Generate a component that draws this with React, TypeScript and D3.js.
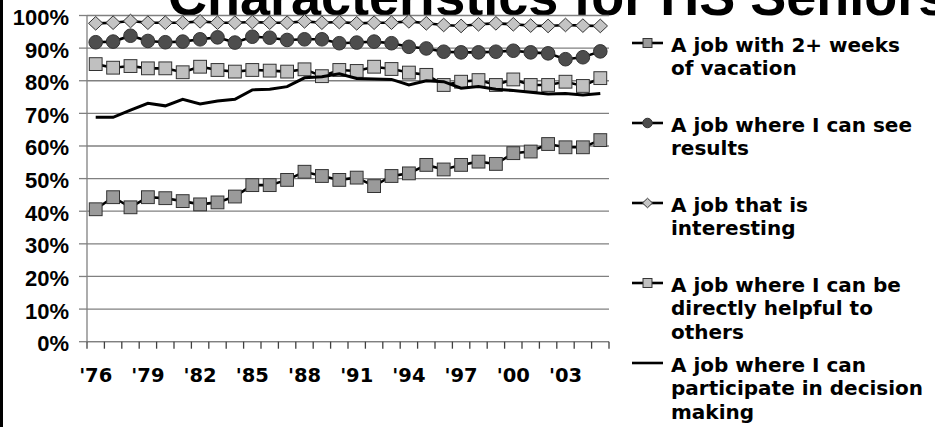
import React from "react";
import * as d3 from "d3";

const years = [1976, 1977, 1978, 1979, 1980, 1981, 1982, 1983, 1984, 1985, 1986, 1987, 1988, 1989, 1990, 1991, 1992, 1993, 1994, 1995, 1996, 1997, 1998, 1999, 2000, 2001, 2002, 2003, 2004, 2005];
const xTickLabels = ["'76", "'79", "'82", "'85", "'88", "'91", "'94", "'97", "'00", "'03"];
const yTicks = [0, 10, 20, 30, 40, 50, 60, 70, 80, 90, 100];

const vacation = [40.6, 44.3, 41.2, 44.3, 44.0, 43.1, 42.1, 42.7, 44.5, 48.0, 48.0, 49.6, 52.1, 50.8, 49.6, 50.3, 47.7, 50.8, 51.6, 54.2, 52.8, 54.2, 55.2, 54.5, 57.8, 58.3, 60.6, 59.6, 59.6, 61.8];
const results = [91.8, 92.0, 93.8, 92.2, 91.8, 92.0, 92.7, 93.3, 91.7, 93.5, 93.2, 92.5, 92.7, 92.7, 91.5, 91.7, 92.0, 91.5, 90.4, 89.9, 88.9, 88.7, 88.7, 88.9, 89.2, 88.7, 88.4, 86.6, 87.2, 89.0];
const interesting = [97.6, 97.8, 98.3, 97.8, 97.8, 97.8, 98.2, 97.8, 97.8, 98.0, 97.8, 97.8, 98.2, 97.8, 98.0, 97.6, 97.8, 97.8, 98.2, 97.6, 97.1, 96.8, 97.3, 97.6, 97.3, 96.9, 96.8, 97.1, 96.9, 96.8];
const helpful = [85.1, 84.0, 84.5, 83.8, 83.8, 82.6, 84.3, 83.3, 82.8, 83.3, 83.1, 82.8, 83.5, 81.4, 83.3, 83.0, 84.3, 83.6, 82.5, 81.8, 78.7, 79.7, 80.2, 78.7, 80.4, 78.7, 78.7, 79.7, 78.4, 80.8];
const decision = [68.8, 68.8, 71.0, 73.1, 72.3, 74.3, 72.9, 73.8, 74.3, 77.2, 77.4, 78.2, 80.9, 81.2, 82.1, 80.7, 80.5, 80.4, 78.7, 80.0, 79.7, 77.7, 78.2, 77.4, 77.0, 76.5, 75.9, 76.1, 75.6, 76.1];

const title = "Characteristics for HS Seniors";
const seriesNames = [
  ["A job with 2+ weeks", "of vacation"],
  ["A job where I can see", "results"],
  ["A job that is", "interesting"],
  ["A job where I can be", "directly helpful to", "others"],
  ["A job where I can", "participate in decision", "making"],
];

type Marker = "square" | "circle" | "diamond" | "none";
const series: { values: number[]; marker: Marker; fill: string }[] = [
  { values: vacation, marker: "square", fill: "#9a9a9a" },
  { values: results, marker: "circle", fill: "#4d4d4d" },
  { values: interesting, marker: "diamond", fill: "#c4c4c4" },
  { values: helpful, marker: "square", fill: "#c0c0c0" },
  { values: decision, marker: "none", fill: "none" },
];

const W = 935, H = 427;
const plotLeft = 87, plotRight = 609, plotTop = 15.5, plotBottom = 341.7;

function MarkerShape({ type, x, y, fill, s }: { type: Marker; x: number; y: number; fill: string; s: number }) {
  const stroke = "#333";
  if (type === "square") {
    const h = 6.4 * s;
    return <rect x={x - h} y={y - h} width={2 * h} height={2 * h} fill={fill} stroke={stroke} strokeWidth={1} />;
  }
  if (type === "circle") {
    return <circle cx={x} cy={y} r={6.8 * s} fill={fill} stroke={stroke} strokeWidth={1} />;
  }
  if (type === "diamond") {
    const hw = 7.2 * s, hh = 6.8 * s;
    return <path d={`M${x - hw},${y}L${x},${y - hh}L${x + hw},${y}L${x},${y + hh}Z`} fill={fill} stroke={stroke} strokeWidth={1} />;
  }
  return null;
}

export default function App() {
  const x = d3.scaleBand<number>().domain(years).range([plotLeft, plotRight]).padding(0);
  const y = d3.scaleLinear().domain([0, 100]).range([plotBottom, plotTop]);
  const cx = (yr: number) => (x(yr) as number) + x.bandwidth() / 2;
  const line = d3.line<number>().x((_, i) => cx(years[i])).y((v) => y(v));
  const tickXs = years.map((yr) => x(yr) as number).concat([plotRight]);

  const legendY0 = 43;
  const legendStep = 80;
  const lineH = 23.5;

  return (
    <svg width={W} height={H} style={{ position: "absolute", left: 0, top: 0, background: "#fff" }}>
      <rect x={0} y={0} width={W} height={H} fill="#fff" />
      <rect x={0} y={0} width={3} height={H} fill="#000" />
      <text x={168} y={15} fontFamily="'Liberation Sans', Arial, sans-serif" fontWeight="bold" fontSize={54} fill="#000">{title}</text>

      {yTicks.map((t) => (
        <g key={t}>
          <line x1={plotLeft} x2={plotRight} y1={y(t)} y2={y(t)} stroke="#808080" strokeWidth={1.3} />
          <line x1={plotLeft - 8} x2={plotLeft} y1={y(t)} y2={y(t)} stroke="#808080" strokeWidth={1.3} />
          <text x={69} y={y(t) + 9.5} textAnchor="end" fontFamily="'Liberation Sans', Arial, sans-serif" fontWeight="bold" fontSize={22} fill="#000">{t}%</text>
        </g>
      ))}
      <line x1={plotLeft} x2={plotLeft} y1={plotTop} y2={plotBottom} stroke="#808080" strokeWidth={1.3} />
      <line x1={plotLeft} x2={plotRight} y1={plotBottom} y2={plotBottom} stroke="#808080" strokeWidth={1.3} />
      {tickXs.map((tx, i) => (
        <line key={i} x1={tx} x2={tx} y1={plotBottom} y2={plotBottom + 7} stroke="#404040" strokeWidth={1.3} />
      ))}
      {xTickLabels.map((lab, i) => (
        <text key={lab} x={cx(years[i * 3])} y={382} textAnchor="middle" fontFamily="'DejaVu Sans', Verdana, sans-serif" fontWeight="bold" fontSize={19.5} fill="#000">{lab}</text>
      ))}

      {series.map((s, si) => (
        <g key={si}>
          <path d={line(s.values) || ""} fill="none" stroke="#000" strokeWidth={s.marker === "none" ? 3 : 2.6} />
          {s.values.map((v, i) => (
            <MarkerShape key={i} type={s.marker} x={cx(years[i])} y={y(v)} fill={s.fill} s={1} />
          ))}
        </g>
      ))}

      {series.map((s, si) => {
        const ly = legendY0 + si * legendStep;
        return (
          <g key={"lg" + si}>
            <line x1={632} x2={663} y1={ly} y2={ly} stroke="#000" strokeWidth={2.6} />
            <MarkerShape type={s.marker} x={647.5} y={ly} fill={s.fill} s={0.7} />
            {seriesNames[si].map((t, li) => (
              <text key={li} x={671} y={ly + 8.5 + li * lineH} fontFamily="'DejaVu Sans', Verdana, sans-serif" fontWeight="bold" fontSize={20} fill="#000">{t}</text>
            ))}
          </g>
        );
      })}
    </svg>
  );
}
